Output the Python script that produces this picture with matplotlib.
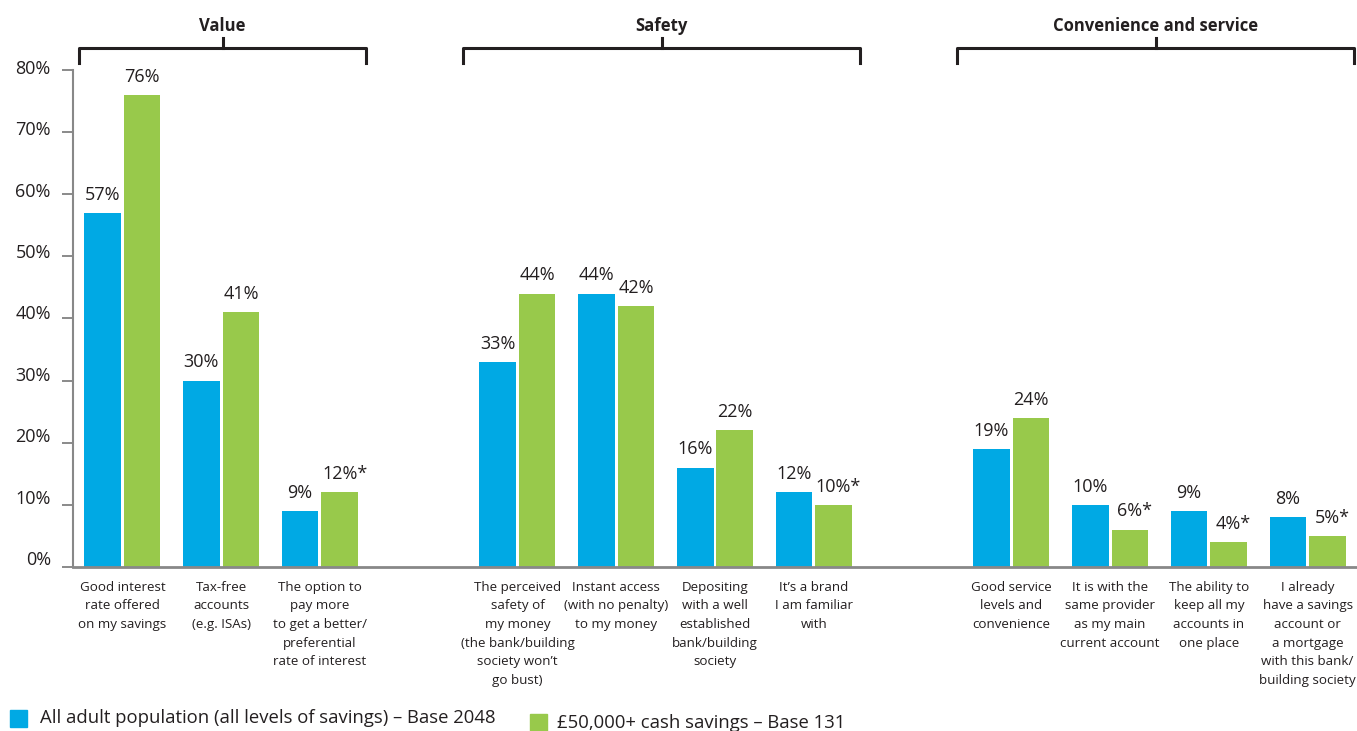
import numpy as np
import matplotlib
matplotlib.use("Agg")
from matplotlib import pyplot as plt
from matplotlib.patches import Rectangle
from matplotlib.transforms import ScaledTranslation

plt.rcParams['font.family'] = ['Open Sans', 'DejaVu Sans']

categories = [
    "Good interest\nrate offered\non my savings",
    "Tax-free\naccounts\n(e.g. ISAs)",
    "The option to\npay more\nto get a better/\npreferential\nrate of interest",
    "The perceived\nsafety of\nmy money\n(the bank/building\nsociety won’t\ngo bust)",
    "Instant access\n(with no penalty)\nto my money",
    "Depositing\nwith a well\nestablished\nbank/building\nsociety",
    "It’s a brand\nI am familiar\nwith",
    "Good service\nlevels and\nconvenience",
    "It is with the\nsame provider\nas my main\ncurrent account",
    "The ability to\nkeep all my\naccounts in\none place",
    "I already\nhave a savings\naccount or\na mortgage\nwith this bank/\nbuilding society",
]
all_adults = [57, 30, 9, 33, 44, 16, 12, 19, 10, 9, 8]
cash_50k = [76, 41, 12, 44, 42, 22, 10, 24, 6, 4, 5]
low_base = [False, False, True, False, False, False, True, False, True, True, True]
sections = ["Value", "Safety", "Convenience and service"]
section_sizes = [3, 4, 4]
series_names = ["All adult population (all levels of savings) \u2013 Base 2048",
                "£50,000+ cash savings \u2013 Base 131"]

BLUE = '#00a9e4'
GREEN = '#98c94b'
TXT = '#231f20'

# slot positions, one empty slot between sections
pos = []
start = 0
spans = []
for n in section_sizes:
    pos += list(range(start, start + n))
    spans.append((start, start + n - 1))
    start += n + 1
pos = np.array(pos, dtype=float)

fig = plt.figure(figsize=(13.57, 7.31), dpi=100)
ax = fig.add_axes([73/1357, 1 - 567/731, 1 - 73/1357, (567-70)/731])

w = 0.37
ax.bar(pos - 0.2, all_adults, w, color=BLUE)
ax.bar(pos + 0.2, cash_50k, w, color=GREEN)

for x, a, c, star, cat in zip(pos, all_adults, cash_50k, low_base, categories):
    ax.text(x - 0.2, a + 1.5, f"{a}%", ha='center', va='bottom', fontsize=13, color=TXT)
    ax.text(x + 0.2 + (0.05 if star else 0), c + 1.5, f"{c}%" + ("*" if star else ""),
            ha='center', va='bottom', fontsize=13, color=TXT)
    ax.text(x, -2.2, cat, ha='center', va='top',
            fontsize=9.6, color=TXT, linespacing=1.57)

ax.set_xlim(-0.5, 12.5)
ax.set_ylim(0, 80)
ticks = list(range(0, 81, 10))
ax.set_yticks(ticks)
ax.set_yticklabels([f"{v}%" for v in ticks], fontsize=13, color=TXT)
ax.set_xticks([])
ax.tick_params(axis='y', direction='out', length=8, width=1.2, color='#777777', pad=8)
# the reference labels sit a little above their ticks
for v, lab in zip(ticks, ax.get_yticklabels()):
    up = (3 + 6 * (1 - v / 80)) / 100
    lab.set_transform(lab.get_transform() + ScaledTranslation(0, up, fig.dpi_scale_trans))
for s in ['top', 'right']:
    ax.spines[s].set_visible(False)
ax.spines['left'].set_color('#888888')
ax.spines['left'].set_linewidth(1.5)
ax.spines['bottom'].set_color('#888888')
ax.spines['bottom'].set_linewidth(2)

# section brackets
for name, (a, b) in zip(sections, spans):
    x0, x1 = max(a - 0.55, -0.44), b + 0.47
    xc = (x0 + x1) / 2
    ax.plot([x0, x0, x1, x1], [81.2, 83.5, 83.5, 81.2], color=TXT, lw=2.2, clip_on=False)
    ax.plot([xc, xc], [83.5, 85.2], color=TXT, lw=2.2, clip_on=False)
    ax.text(xc, 87.1, name, ha='center', va='center', fontsize=12,
            fontweight='bold', color=TXT, clip_on=False)

# legend
for (px, py, tx, ty), name, col in zip([(10, 727, 40, 718), (530, 731, 557, 723)],
                                       series_names, [BLUE, GREEN]):
    fig.patches.append(Rectangle((px/1357, 1 - py/731), 17/1357, 17/731,
                                 transform=fig.transFigure, color=col))
    fig.text(tx/1357, 1 - ty/731, name, ha='left', va='center', fontsize=13.3, color=TXT)

fig.savefig("out.png", dpi=100)
